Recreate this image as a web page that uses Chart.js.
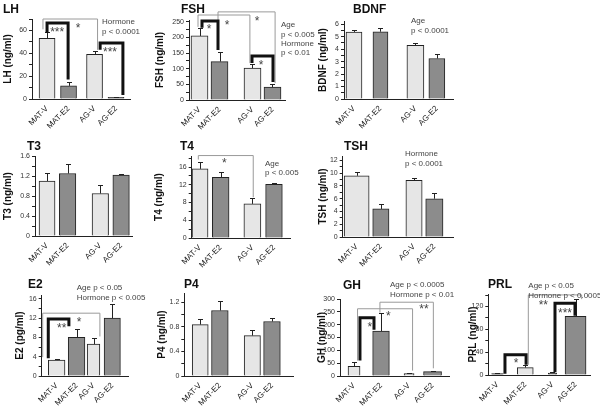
<!DOCTYPE html>
<html>
<head>
<meta charset="utf-8">
<script src="https://cdn.jsdelivr.net/npm/chart.js@4.4.1/dist/chart.umd.min.js"></script>
<style>
  body { margin: 0; background: #fff; width: 600px; height: 406px; overflow: hidden; position: relative;
         font-family: "Liberation Sans", Arial, sans-serif; }
  canvas { position: absolute; }
  .ttl { position: absolute; font-weight: bold; font-size: 12px; line-height: 12px; color: #111; white-space: nowrap; }
  .note { position: absolute; font-size: 8px; color: #444; white-space: nowrap; }
</style>
</head>
<body>
<script>
// group labels, same for every panel
const groups = ['MAT-V', 'MAT-E2', 'AG-V', 'AG-E2']

// means and upper error (SEM)
const lhMean = [53, 11.5, 39, 1.5]
const lhErr = [5.5, 3.5, 3, 0.3]
const fshMean = [205, 123, 102, 41]
const fshErr = [25, 30, 13, 10]
const bdnfMean = [5.38, 5.4, 4.3, 3.25]
const bdnfErr = [0.15, 0.3, 0.18, 0.35]
const t3Mean = [1.1, 1.25, 0.85, 1.22]
const t3Err = [0.16, 0.2, 0.18, 0.025]
const t4Mean = [15.6, 13.7, 7.7, 12.1]
const t4Err = [1.6, 1.3, 1.3, 0.4]
const tshMean = [9.6, 4.4, 8.9, 6.0]
const tshErr = [0.6, 0.75, 0.4, 0.95]
const e2Mean = [3.3, 8.0, 6.6, 12.0]
const e2Err = [0.2, 1.7, 1.2, 2.9]
const p4Mean = [0.84, 1.07, 0.66, 0.89]
const p4Err = [0.09, 0.16, 0.09, 0.05]
const ghMean = [38, 175, 9, 17]
const ghErr = [15, 72, 3, 4]
const prlMean = [2.3, 13, 3.5, 103]
const prlErr = [0.5, 5, 1.5, 30]

const FAM = '"Liberation Sans", Arial, sans-serif'
const LIGHT = '#e6e6e6', DARK = '#8c8c8c'
const std = [LIGHT, DARK, LIGHT, DARK]

Chart.defaults.font.family = FAM

// layout of each panel: plot box in page px, bar slots in x units
let panels = [
  { title: 'LH', tx: 3, ty: 9, ylab: 'LH (ng/ml)', ylabX: 8, box: { l: 32, r: 130, t: 19, b: 99 },
    yMax: 70, step: 10, lab: 20, xs: [0, 1, 2.21, 3.21], xMin: -0.7, xMax: 3.86, widths: [16, 16, 16, 16],
    mean: lhMean, err: lhErr, colors: std,
    notes: { x: 102, y: 22, lh: 10, lines: ['Hormone', 'p < 0.0001'] },
    brackets: [
      { x1: -0.19, x2: 2.35, top: 70, y1: 61, y2: 43 },
      { x1: 0, x2: 0.98, top: 66.5, y1: 57.7, y2: 17, thick: true },
      { x1: 2.47, x2: 3.53, top: 49, y1: 43, y2: 3.5, thick: true }],
    stars: [{ x: 1.44, y: 64.7, t: '*' }, { x: 0.47, y: 61, t: '***' }, { x: 2.93, y: 43.7, t: '***' }] },
  { title: 'FSH', tx: 181, ty: 9, ylab: 'FSH (ng/ml)', ylabX: 160, box: { l: 189, r: 285, t: 20, b: 100 },
    yMax: 256, step: 25, lab: 50, xs: [0, 1, 2.65, 3.65], xMin: -0.525, xMax: 4.275, widths: [17, 17, 17, 17],
    mean: fshMean, err: fshErr, colors: std,
    notes: { x: 281, y: 25, lh: 9.3, lines: ['Age', 'p < 0.005', 'Hormone', 'p < 0.01'] },
    brackets: [
      { x1: -0.075, x2: 2.52, top: 272, y1: 234, y2: 118 },
      { x1: 0.925, x2: 3.78, top: 282, y1: 160, y2: 54 },
      { x1: 0.125, x2: 0.925, top: 253, y1: 231, y2: 160, thick: true },
      { x1: 2.625, x2: 3.675, top: 141, y1: 118.6, y2: 57.7, thick: true }],
    stars: [{ x: 0.475, y: 237, t: '*' }, { x: 1.375, y: 250, t: '*' }, { x: 2.875, y: 263, t: '*' }, { x: 3.075, y: 122, t: '*' }] },
  { title: 'BDNF', tx: 353, ty: 9, ylab: 'BDNF (ng/ml)', ylabX: 323, box: { l: 344, r: 453, t: 20.7, b: 99 },
    yMax: 6.26, step: 0.5, lab: 1, xs: [0, 1, 2.32, 3.13], xMin: -0.377, xMax: 3.74, widths: [16, 15, 17, 16],
    mean: bdnfMean, err: bdnfErr, colors: std,
    notes: { x: 411, y: 21, lh: 9.5, lines: ['Age', 'p < 0.0001'] } },
  { title: 'T3', tx: 27, ty: 146, ylab: 'T3 (ng/ml)', ylabX: 8, box: { l: 35, r: 131.7, t: 155.7, b: 235.7 },
    yMax: 1.6, step: 0.2, lab: 0.4, xs: [0, 1, 2.59, 3.6], xMin: -0.585, xMax: 4.13, widths: [16, 16.5, 16.5, 16.5],
    mean: t3Mean, err: t3Err, colors: std },
  { title: 'T4', tx: 180, ty: 146, ylab: 'T4 (ng/ml)', ylabX: 159, box: { l: 191.7, r: 290, t: 155.7, b: 237.7 },
    yMax: 18.5, step: 2, lab: 4, xs: [0, 0.967, 2.45, 3.46], xMin: -0.39, xMax: 4.21, widths: [16, 16.7, 17, 16.7],
    mean: t4Mean, err: t4Err, colors: std,
    notes: { x: 265, y: 163.3, lh: 9, lines: ['Age', 'p < 0.005'] },
    brackets: [{ x1: -0.08, x2: 2.49, top: 18.6, y1: 17.7, y2: 9.2 }],
    stars: [{ x: 1.14, y: 17.5, t: '*' }] },
  { title: 'TSH', tx: 344, ty: 146, ylab: 'TSH (ng/ml)', ylabX: 323, box: { l: 342.7, r: 453.3, t: 155.7, b: 237 },
    yMax: 12.7, step: 1, lab: 2, xs: [0, 1, 2.37, 3.21], xMin: -0.576, xMax: 3.98, widths: [25, 16.3, 16.3, 17.3],
    mean: tshMean, err: tshErr, colors: std,
    notes: { x: 405, y: 154.3, lh: 10, lines: ['Hormone', 'p < 0.0001'] } },
  { title: 'E2', tx: 28, ty: 283.5, ylab: 'E2 (pg/ml)', ylabX: 20, box: { l: 41.7, r: 128.3, t: 295, b: 376.3 },
    yMax: 16.8, step: 2, lab: 4, xs: [0, 1, 1.85, 2.79], xMin: -0.75, xMax: 3.58, widths: [16.7, 16.7, 12.7, 16.3],
    mean: e2Mean, err: e2Err, colors: std,
    notes: { x: 76.7, y: 287.7, lh: 10, lines: ['Age p < 0.05', 'Hormone p < 0.005'] },
    brackets: [
      { x1: -0.7, x2: 2.17, top: 13.03, y1: 3.9, y2: 8.2 },
      { x1: -0.42, x2: 0.615, top: 11.8, y1: 3.7, y2: 10.3, thick: true }],
    stars: [{ x: 1.13, y: 11.8, t: '*' }, { x: 0.25, y: 10.6, t: '**' }] },
  { title: 'P4', tx: 184, ty: 283.5, ylab: 'P4 (ng/ml)', ylabX: 162, box: { l: 184.3, r: 293.3, t: 292.7, b: 375.3 },
    yMax: 1.355, step: 0.2, lab: 0.4, xs: [0, 1, 2.65, 3.65], xMin: -0.81, xMax: 4.72, widths: [16, 16.7, 16.3, 16.7],
    mean: p4Mean, err: p4Err, colors: std },
  { title: 'GH', tx: 343, ty: 284.5, ylab: 'GH (ng/ml)', ylabX: 321.7, box: { l: 340, r: 449, t: 298.5, b: 375.5 },
    yMax: 300, step: 50, lab: 50, xs: [0, 1, 2.04, 2.91], xMin: -0.52, xMax: 3.52, widths: [12, 16.7, 10, 18],
    mean: ghMean, err: ghErr, colors: std,
    notes: { x: 390, y: 285, lh: 9.3, lines: ['Age p < 0.0005', 'Hormone p < 0.01'] },
    brackets: [
      { x1: 0.13, x2: 2.17, top: 262, y1: 60, y2: 21 },
      { x1: 0.96, x2: 2.94, top: 287.5, y1: 247, y2: 30 },
      { x1: 0.22, x2: 0.74, top: 226.7, y1: 60, y2: 180, thick: true }],
    stars: [{ x: 0.59, y: 203, t: '*' }, { x: 1.27, y: 245, t: '*' }, { x: 2.59, y: 271, t: '**' }] },
  { title: 'PRL', tx: 488, ty: 284, ylab: 'PRL (ng/ml)', ylabX: 473.3, box: { l: 488.3, r: 590, t: 294, b: 375.3 },
    yMax: 142, step: 20, lab: 40, xs: [0, 1, 1.98, 2.81], xMin: -0.33, xMax: 3.33, widths: [11.7, 16, 8.3, 21],
    mean: prlMean, err: prlErr, colors: [DARK, LIGHT, DARK, DARK],
    notes: { x: 528.3, y: 286, lh: 10, lines: ['Age p < 0.05', 'Hormone p < 0.0005'] },
    brackets: [
      { x1: 1.11, x2: 3.03, top: 140.4, y1: 18, y2: 133 },
      { x1: 0.27, x2: 1.03, top: 35.5, y1: 2, y2: 18, thick: true },
      { x1: 2.07, x2: 2.79, top: 125.8, y1: 5, y2: 104, thick: true }],
    stars: [{ x: 0.67, y: 26.8, t: '*' }, { x: 2.43, y: 114, t: '***' }, { x: 1.65, y: 128.7, t: '**' }] }
]

function isMult(v, s) {
  let q = v / s
  return Math.abs(q - Math.round(q)) < 1e-6
}

// error bars, significance brackets and asterisks, all in data units
function marksPlugin(p) {
  return {
    id: 'marks',
    afterDatasetsDraw(chart) {
      let { ctx, scales: { x, y } } = chart
      ctx.save()
      ctx.strokeStyle = '#222'
      ctx.lineWidth = 1
      p.mean.forEach((m, i) => {
        let px = Math.round(x.getPixelForValue(p.xs[i])) + 0.5
        let y0 = y.getPixelForValue(m)
        let y1 = Math.round(y.getPixelForValue(m + p.err[i])) + 0.5
        ctx.beginPath()
        ctx.moveTo(px, y0)
        ctx.lineTo(px, y1)
        ctx.moveTo(px - 2.5, y1)
        ctx.lineTo(px + 2.5, y1)
        ctx.stroke()
      })
      ;(p.brackets || []).forEach(b => {
        ctx.beginPath()
        ctx.lineWidth = b.thick ? 3 : 1
        ctx.strokeStyle = b.thick ? '#111' : '#9a9a9a'
        ctx.lineJoin = 'miter'
        ctx.moveTo(x.getPixelForValue(b.x1), y.getPixelForValue(b.y1))
        ctx.lineTo(x.getPixelForValue(b.x1), y.getPixelForValue(b.top))
        ctx.lineTo(x.getPixelForValue(b.x2), y.getPixelForValue(b.top))
        ctx.lineTo(x.getPixelForValue(b.x2), y.getPixelForValue(b.y2))
        ctx.stroke()
      })
      ctx.fillStyle = '#444'
      ctx.font = '12px ' + FAM
      ctx.textAlign = 'center'
      ctx.textBaseline = 'alphabetic'
      ;(p.stars || []).forEach(s => {
        ctx.fillText(s.t, x.getPixelForValue(s.x), y.getPixelForValue(s.y) + 7)
      })
      ctx.restore()
    }
  }
}

function addText(cls, x, y, text, lh) {
  let d = document.createElement('div')
  d.className = cls
  d.style.left = x + 'px'
  d.style.top = y + 'px'
  if (lh) d.style.lineHeight = lh + 'px'
  d.innerHTML = text
  document.body.appendChild(d)
}

function makePanel(p) {
  const PADT = 26, XH = 36, PADR = 4
  let cl = Math.round(p.ylabX - 6)
  let ct = Math.round(p.box.t - PADT)
  let yw = p.box.l - cl
  let w = Math.round(yw + (p.box.r - p.box.l) + PADR)
  let h = Math.round(PADT + (p.box.b - p.box.t) + XH)

  let canvas = document.createElement('canvas')
  canvas.width = w
  canvas.height = h
  canvas.style.left = cl + 'px'
  canvas.style.top = ct + 'px'
  document.body.appendChild(canvas)

  // one dataset per bar so each bar keeps its own width
  let datasets = p.mean.map((m, i) => ({
    data: [{ x: p.xs[i], y: m }],
    backgroundColor: p.colors[i],
    borderColor: '#222',
    borderWidth: 1,
    barThickness: p.widths[i],
    grouped: false
  }))

  new Chart(canvas.getContext('2d'), {
    type: 'bar',
    data: { datasets: datasets },
    options: {
      responsive: false,
      animation: false,
      devicePixelRatio: 1,
      layout: { padding: { top: PADT, right: PADR, left: 0, bottom: 0 } },
      plugins: { legend: { display: false }, tooltip: { enabled: false } },
      scales: {
        x: {
          type: 'linear',
          min: p.xMin,
          max: p.xMax,
          offset: false,
          afterFit: s => { s.height = XH },
          afterBuildTicks: s => { s.ticks = p.xs.map(v => ({ value: v })) },
          grid: { display: false },
          border: { color: '#222', width: 1 },
          ticks: {
            autoSkip: false, minRotation: 45, maxRotation: 45, padding: -3,
            font: { size: 8 }, color: '#222',
            callback: (v, i) => groups[i]
          }
        },
        y: {
          min: 0,
          max: p.yMax,
          afterFit: s => { s.width = yw },
          border: { color: '#222', width: 1 },
          grid: { drawOnChartArea: false, drawTicks: true, tickLength: 3, color: '#222' },
          ticks: {
            stepSize: p.step, includeBounds: false, autoSkip: false, padding: 2,
            font: { size: 7 }, color: '#333',
            callback: v => isMult(v, p.lab) ? String(Math.round(v * 1000) / 1000) : ''
          },
          title: {
            display: true, text: p.ylab, color: '#111',
            font: { size: 10, weight: 'bold' }, padding: { top: 0, bottom: 0 }
          }
        }
      }
    },
    plugins: [marksPlugin(p)]
  })

  addText('ttl', p.tx, p.ty - 6, p.title)
  if (p.notes) {
    let n = p.notes
    addText('note', n.x, n.y - n.lh / 2, n.lines.join('<br>'), n.lh)
  }
}

panels.forEach(makePanel)
</script>
</body>
</html>
